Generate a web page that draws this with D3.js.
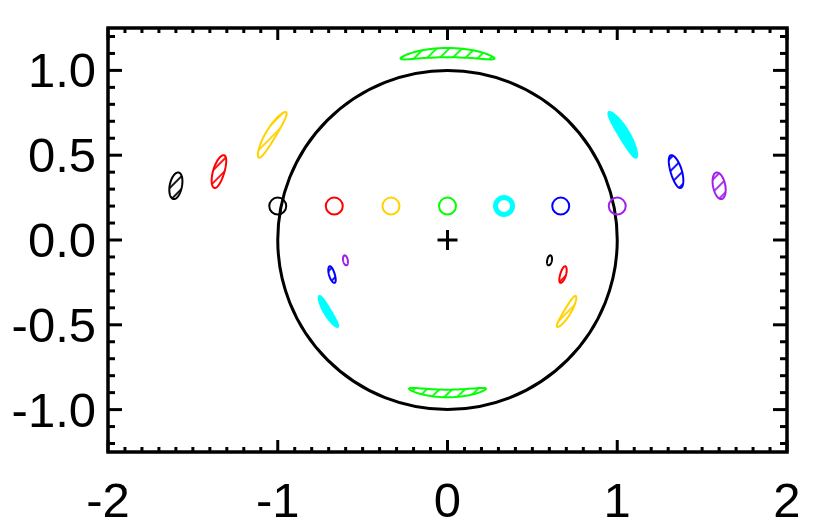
<!DOCTYPE html>
<html>
<head>
<meta charset="utf-8">
<script src="https://cdn.jsdelivr.net/npm/d3@7"></script>
<style>
  html, body { margin: 0; padding: 0; background: #fff; }
  svg { display: block; }
  .tick-label { font-family: "Liberation Sans", Arial, sans-serif; font-size: 49px; fill: #000; }
</style>
</head>
<body>
<svg id="chart" width="830" height="521"></svg>
<script>
"use strict";

// Sources (small circles along y = 0.2).
const sourceX = [-1, -0.667, -0.333, 0, 0.333, 0.667, 1];
const sourceY = [0.2, 0.2, 0.2, 0.2, 0.2, 0.2, 0.2];
const sourceRadius = 0.05;
const colors = ["#000000", "#ff0000", "#ffd200", "#00ff00", "#00ffff", "#0000ff", "#a020f0"];
const filled = [false, false, false, false, true, false, false];

// Images, in polar form: distance from lens, angle (deg), radial half-width, angular half-span (deg).
const outerR = [1.632, 1.407, 1.213, 1.105, 1.213, 1.407, 1.632];
const outerAngle = [168.7, 163.3, 149.0, 90, 31.0, 16.7, 11.3];
const outerWidth = [0.036, 0.033, 0.030, 0.0275, 0.030, 0.033, 0.036];
const innerR = [0.613, 0.711, 0.824, 0.905, 0.824, 0.711, 0.613];
const innerAngle = [-11.3, -16.7, -31.0, -90, 211.0, 196.7, 191.3];
const innerWidth = [0.0137, 0.0168, 0.020, 0.0225, 0.020, 0.0168, 0.0137];
const imageSpan = [2.8, 4.1, 7.4, 14.5, 7.4, 4.1, 2.8];

// Axis ticks.
const xMajor = [-2, -1, 0, 1, 2];
const xLabels = ["-2", "-1", "0", "1", "2"];
const yMajor = [-1.0, -0.5, 0.0, 0.5, 1.0];
const yLabels = ["-1.0", "-0.5", "0.0", "0.5", "1.0"];

const svg = d3.select("#chart");
const margin = {left: 108, right: 787, top: 28, bottom: 452};

const x = d3.scaleLinear().domain([-2, 2]).range([margin.left, margin.right]);
const y = d3.scaleLinear().domain([-1.25, 1.25]).range([margin.bottom, margin.top]);

// Hatch patterns, one per colour.
const defs = svg.append("defs");
colors.forEach((c, i) => {
  const p = defs.append("pattern")
      .attr("id", "hatch" + i)
      .attr("patternUnits", "userSpaceOnUse")
      .attr("width", 9).attr("height", 9)
      .attr("patternTransform", "rotate(45)");
  p.append("line")
      .attr("x1", 1).attr("y1", -1).attr("x2", 1).attr("y2", 10)
      .attr("stroke", c).attr("stroke-width", 1.8);
});

// Einstein ring.
svg.append("ellipse")
    .attr("cx", x(0)).attr("cy", y(0))
    .attr("rx", x(1) - x(0)).attr("ry", y(0) - y(1))
    .attr("fill", "none").attr("stroke", "#000").attr("stroke-width", 3);

// Lens position.
const cross = svg.append("g").attr("stroke", "#000").attr("stroke-width", 3);
cross.append("line").attr("x1", x(0) - 10).attr("x2", x(0) + 10).attr("y1", y(0)).attr("y2", y(0));
cross.append("line").attr("x1", x(0)).attr("x2", x(0)).attr("y1", y(0) - 10).attr("y2", y(0) + 10);

// Sources.
svg.append("g").selectAll("ellipse")
    .data(sourceX)
    .enter().append("ellipse")
    .attr("cx", (d) => x(d))
    .attr("cy", (d, i) => y(sourceY[i]))
    .attr("rx", x(sourceRadius) - x(0))
    .attr("ry", y(0) - y(sourceRadius))
    .attr("fill", "none")
    .attr("stroke", (d, i) => colors[i])
    .attr("stroke-width", (d, i) => filled[i] ? 5 : 2);

// Curved image outline: ellipse in (r, angle) coordinates.
const line = d3.line().x((p) => x(p[0])).y((p) => y(p[1]));
const imagePath = (r, ang, w, span) => {
  const pts = d3.range(0, 73).map((k) => {
    const t = k / 72 * 2 * Math.PI;
    const rr = r + w * Math.cos(t);
    const a = (ang + span * Math.sin(t)) * Math.PI / 180;
    return [rr * Math.cos(a), rr * Math.sin(a)];
  });
  return line(pts) + "Z";
};

const images = [];
sourceX.forEach((d, i) => {
  images.push({i: i, r: outerR[i], ang: outerAngle[i], w: outerWidth[i], span: imageSpan[i]});
  images.push({i: i, r: innerR[i], ang: innerAngle[i], w: innerWidth[i], span: imageSpan[i]});
});

svg.append("g").selectAll("path")
    .data(images)
    .enter().append("path")
    .attr("d", (d) => imagePath(d.r, d.ang, d.w, d.span))
    .attr("fill", (d) => filled[d.i] ? colors[d.i] : "url(#hatch" + d.i + ")")
    .attr("stroke", (d) => colors[d.i])
    .attr("stroke-width", 2)
    .attr("stroke-linejoin", "round");

// Frame and ticks (IDL style, inward on all sides).
const axes = svg.append("g").attr("stroke", "#000").attr("stroke-width", 3);
const xMinor = d3.range(-20, 21).map((k) => k / 10).filter((v) => Math.abs(v - Math.round(v)) > 1e-6);
const yMinor = d3.range(-12, 13).map((k) => k / 10).filter((v) => Math.abs(v * 2 - Math.round(v * 2)) > 1e-6);

xMajor.forEach((v) => {
  axes.append("line").attr("x1", x(v)).attr("x2", x(v)).attr("y1", margin.bottom).attr("y2", margin.bottom - 12);
  axes.append("line").attr("x1", x(v)).attr("x2", x(v)).attr("y1", margin.top).attr("y2", margin.top + 12);
});
xMinor.forEach((v) => {
  axes.append("line").attr("x1", x(v)).attr("x2", x(v)).attr("y1", margin.bottom).attr("y2", margin.bottom - 5);
  axes.append("line").attr("x1", x(v)).attr("x2", x(v)).attr("y1", margin.top).attr("y2", margin.top + 5);
});
yMajor.forEach((v) => {
  axes.append("line").attr("y1", y(v)).attr("y2", y(v)).attr("x1", margin.left).attr("x2", margin.left + 14);
  axes.append("line").attr("y1", y(v)).attr("y2", y(v)).attr("x1", margin.right).attr("x2", margin.right - 14);
});
yMinor.forEach((v) => {
  axes.append("line").attr("y1", y(v)).attr("y2", y(v)).attr("x1", margin.left).attr("x2", margin.left + 7);
  axes.append("line").attr("y1", y(v)).attr("y2", y(v)).attr("x1", margin.right).attr("x2", margin.right - 7);
});

axes.append("rect")
    .attr("x", margin.left).attr("y", margin.top)
    .attr("width", margin.right - margin.left)
    .attr("height", margin.bottom - margin.top)
    .attr("fill", "none")
    .attr("stroke-width", 3.5);

// Tick labels.
svg.append("g").selectAll("text")
    .data(xMajor)
    .enter().append("text")
    .attr("class", "tick-label")
    .attr("x", (d) => x(d))
    .attr("y", 517)
    .attr("text-anchor", "middle")
    .text((d, i) => xLabels[i]);

svg.append("g").selectAll("text")
    .data(yMajor)
    .enter().append("text")
    .attr("class", "tick-label")
    .attr("x", 96)
    .attr("y", (d) => y(d) + 17)
    .attr("text-anchor", "end")
    .text((d, i) => yLabels[i]);
</script>
</body>
</html>
